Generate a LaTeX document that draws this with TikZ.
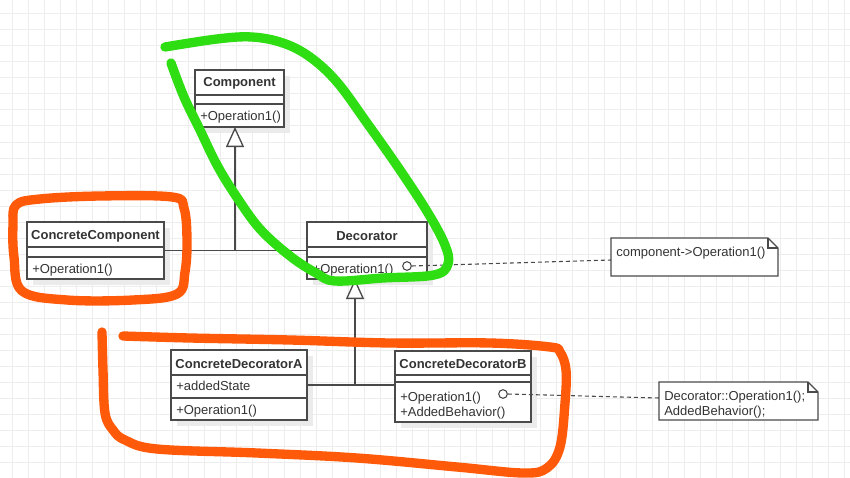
\documentclass[tikz,border=0pt]{standalone}
\usepackage{fontspec}
\setmainfont{Liberation Sans}
\usetikzlibrary{fit,arrows.meta,shadows,calc}
\definecolor{gridc}{HTML}{EDEDED}
\definecolor{linec}{HTML}{4A4A4A}
\definecolor{textc}{HTML}{333333}
\definecolor{shadowc}{HTML}{EBEBEB}
\definecolor{greenc}{HTML}{2EDD12}
\definecolor{orangec}{HTML}{FF5A0A}
\begin{document}
\begin{tikzpicture}[x=0.75pt,y=-0.75pt,
  box/.style={draw=linec, line width=1pt, fill=white, inner sep=0pt, outer sep=0pt,
    general shadow={fill=shadowc, shadow xshift=4.5pt, shadow yshift=-4.5pt}},
  notebox/.style={inner sep=0pt, outer sep=0pt},
  titletext/.style={font=\bfseries\fontsize{9.75pt}{11.7pt}\selectfont, text=textc, inner sep=0pt, anchor=base},
  membertext/.style={font=\fontsize{9.75pt}{11.7pt}\selectfont, text=textc, inner sep=0pt, anchor=base west},
  sepline/.style={draw=linec, line width=1pt},
  conn/.style={draw=linec, line width=1pt},
  inh/.style={conn, -{Triangle[length=15pt,width=13.5pt,fill=white]}},
  dep/.style={draw=linec, line width=0.8pt, dash pattern=on 3pt off 2.25pt},
  hole/.style={circle, draw=linec, fill=white, line width=0.8pt, minimum size=6.5pt, inner sep=0pt},
  pen/.style={line width=7pt, line cap=round, line join=round}
]
\useasboundingbox (0,0) rectangle (850,478);
\fill[white] (0,0) rectangle (850,478);
% grid
\foreach \gx in {12,28,...,850} \draw[gridc, line width=0.75pt] (\gx,0) -- (\gx,478);
\foreach \gy in {14,30,...,478} \draw[gridc, line width=0.75pt] (0,\gy) -- (850,\gy);

% Component
\node[box, fit={(195,70)(284,127)}] (comp) {};
\draw[sepline] (comp.west |- 0,95) -- (comp.east |- 0,95);
\draw[sepline] (comp.west |- 0,104) -- (comp.east |- 0,104);
\node[titletext] (compt) at (239.5,87) {Component};
\node[membertext] (compo) at (200,120.5) {+Operation1()};

% ConcreteComponent
\node[box, fit={(27,222)(164,279)}] (cc) {};
\draw[sepline] (cc.west |- 0,247) -- (cc.east |- 0,247);
\draw[sepline] (cc.west |- 0,257) -- (cc.east |- 0,257);
\node[titletext] (cct) at (95.5,239.5) {ConcreteComponent};
\node[membertext] (cco) at (32,273) {+Operation1()};

% Decorator
\node[box, fit={(307,222)(427,279)}] (dec) {};
\draw[sepline] (dec.west |- 0,247) -- (dec.east |- 0,247);
\draw[sepline] (dec.west |- 0,257) -- (dec.east |- 0,257);
\node[titletext] (dect) at (367,240) {Decorator};
\node[membertext] (deco) at (312.5,273) {+Operation1()};
\node[hole] (dech) at (407,266) {};

% ConcreteDecoratorA
\node[box, fit={(171,350)(307,420)}] (cda) {};
\draw[sepline] (cda.west |- 0,375) -- (cda.east |- 0,375);
\draw[sepline] (cda.west |- 0,398) -- (cda.east |- 0,398);
\node[titletext] (cdat) at (239,368) {ConcreteDecoratorA};
\node[membertext] (cdaa) at (176,390.5) {+addedState};
\node[membertext] (cdao) at (176,414) {+Operation1()};

% ConcreteDecoratorB
\node[box, fit={(395,351)(531,422)}] (cdb) {};
\draw[sepline] (cdb.west |- 0,375) -- (cdb.east |- 0,375);
\draw[sepline] (cdb.west |- 0,382) -- (cdb.east |- 0,382);
\node[titletext] (cdbt) at (463,368) {ConcreteDecoratorB};
\node[membertext] (cdbo) at (400,401.5) {+Operation1()};
\node[membertext] (cdbb) at (400,416) {+AddedBehavior()};
\node[hole] (cdbh) at (503,394) {};

% Notes
\node[notebox, fit={(611,238)(778,276)}] (n1) {};
\draw[conn, fill=white] (n1.north west) -- ([xshift=-7.5pt]n1.north east) -- ([yshift=-7.5pt]n1.north east) -- (n1.south east) -- (n1.south west) -- cycle;
\draw[conn] ([xshift=-7.5pt]n1.north east) -- ([xshift=-7.5pt,yshift=-7.5pt]n1.north east) -- ([yshift=-7.5pt]n1.north east);
\node[membertext] (n1t) at (616,256) {component->Operation1()};

\node[notebox, fit={(659,382)(818,420)}] (n2) {};
\draw[conn, fill=white] (n2.north west) -- ([xshift=-7.5pt]n2.north east) -- ([yshift=-7.5pt]n2.north east) -- (n2.south east) -- (n2.south west) -- cycle;
\draw[conn] ([xshift=-7.5pt]n2.north east) -- ([xshift=-7.5pt,yshift=-7.5pt]n2.north east) -- ([yshift=-7.5pt]n2.north east);
\node[membertext] (n2a) at (664,400) {Decorator::Operation1();};
\node[membertext] (n2b) at (664,415) {AddedBehavior();};

% connectors
\coordinate (j1) at (235,250.5);
\coordinate (j2) at (355,385);
\draw[conn] (cc.east) -- (dec.west);
\draw[inh] (j1) -- (j1 |- comp.south);
\draw[conn] (cda.east) -- (j2) -- (j2 -| cdb.west);
\draw[inh] (j2) -- (j2 |- dec.south);
\draw[dep] (dech.east) -- ([yshift=-2.25pt]n1.west);
\draw[dep] (cdbh.east) -- ([yshift=2.25pt]n2.west);

% hand-drawn marks
\draw[pen, greenc] plot[smooth, tension=0.6] coordinates {(165,47) (217,39) (252,37) (283,43) (310,57) (337,82) (367,123) (400,170) (428,213) (445,245) (448,264) (434,275) (383,278) (335,281) (316,273) (290,256) (260,229) (236,196) (217,165) (200,130) (184,97) (171,63)};
\draw[pen, orangec] plot[smooth cycle, tension=0.6] coordinates {(16,205) (40,199) (100,196) (172,197) (184,208) (187,240) (185,272) (177,294) (133,300) (67,300) (22,291) (14,257) (13,225)};
\draw[pen, orangec] plot[smooth, tension=0.6] coordinates {(102,332) (103,370) (105,413) (113,430) (125,440) (157,449) (257,453) (357,458) (457,467) (523,473) (547,468) (560,447) (565,403) (566,370) (560,352) (550,347) (490,343) (390,343) (290,340) (190,338) (123,336)};
\end{tikzpicture}
\end{document}
